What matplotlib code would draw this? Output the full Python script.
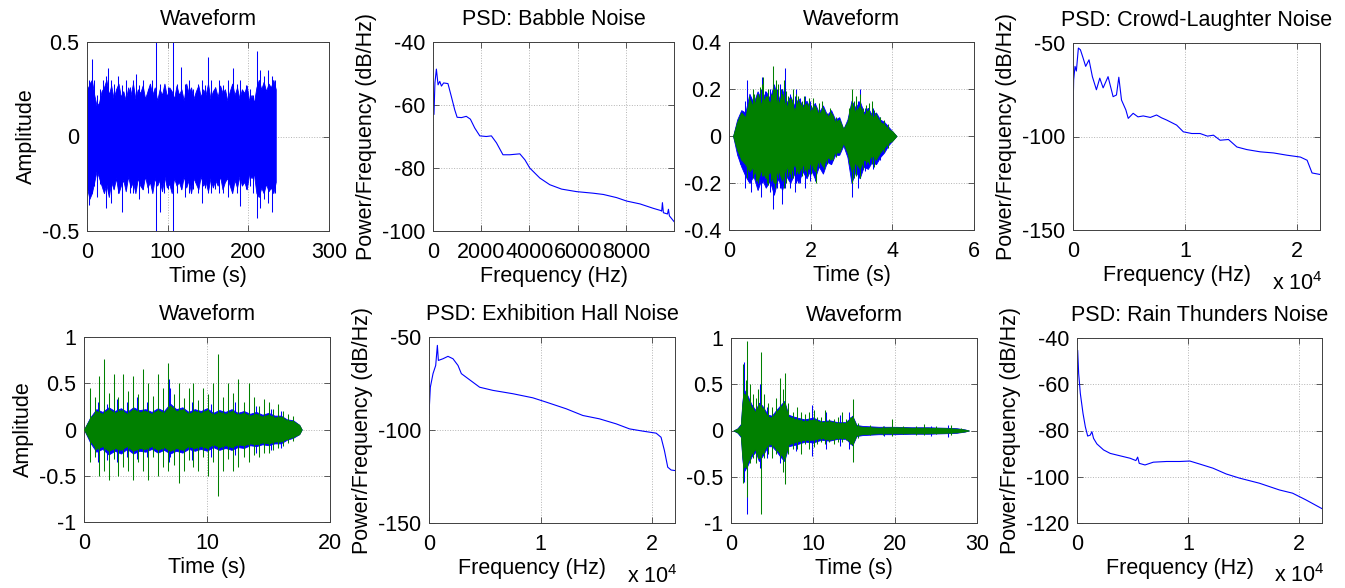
import matplotlib
matplotlib.use("Agg")
import matplotlib.pyplot as plt
from matplotlib.ticker import FuncFormatter

plt.rcParams['font.family'] = ['Liberation Sans', 'DejaVu Sans']
plt.rcParams['font.size'] = 15.5
plt.rcParams['axes.titlesize'] = 15.5
plt.rcParams['axes.unicode_minus'] = False
plt.rcParams['mathtext.fontset'] = 'custom'
plt.rcParams['mathtext.rm'] = 'Liberation Sans'

BLUE = '#0000ff'
GREEN = '#008000'

# --- Babble noise: waveform envelope (every 3 s) + peaks, PSD ---
bab_env_t = list(range(0, 235, 3))
bab_env_hi = [0.24, 0.28, 0.3, 0.22, 0.16, 0.18, 0.24, 0.26, 0.3, 0.22, 0.27, 0.2, 0.25, 0.28,
              0.21, 0.24, 0.19, 0.26, 0.22, 0.28, 0.2, 0.25, 0.23, 0.27, 0.2, 0.24, 0.28, 0.22,
              0.26, 0.19, 0.25, 0.22, 0.28, 0.21, 0.26, 0.24, 0.2, 0.27, 0.22, 0.25, 0.19,
              0.28, 0.23, 0.26, 0.2, 0.24, 0.27, 0.21, 0.25, 0.22, 0.28, 0.2, 0.24, 0.26, 0.21,
              0.27, 0.23, 0.25, 0.19, 0.24, 0.28, 0.22, 0.26, 0.2, 0.25, 0.23, 0.27, 0.19,
              0.22, 0.18, 0.26, 0.3, 0.25, 0.29, 0.24, 0.28, 0.26, 0.3, 0.25]
bab_env_lo = [-0.27, -0.33, -0.3, -0.24, -0.18, -0.22, -0.26, -0.3, -0.25, -0.32, -0.24,
              -0.28, -0.22, -0.3, -0.26, -0.23, -0.29, -0.21, -0.27, -0.24, -0.3, -0.22,
              -0.26, -0.28, -0.21, -0.27, -0.24, -0.3, -0.22, -0.26, -0.23, -0.29, -0.21,
              -0.27, -0.25, -0.3, -0.22, -0.26, -0.24, -0.28, -0.21, -0.27, -0.23, -0.3,
              -0.22, -0.25, -0.28, -0.21, -0.26, -0.24, -0.29, -0.22, -0.27, -0.23, -0.26,
              -0.21, -0.28, -0.24, -0.22, -0.26, -0.3, -0.23, -0.27, -0.21, -0.26, -0.24,
              -0.28, -0.2, -0.22, -0.2, -0.3, -0.32, -0.27, -0.3, -0.25, -0.29, -0.27, -0.3,
              -0.24]
bab_spk_t = [1, 3, 6, 9, 12, 16, 20, 23, 26, 30, 34, 38, 43, 48, 53, 57, 61, 65, 70, 76, 80,
             85, 91, 95, 100, 107, 112, 117, 122, 127, 132, 138, 142, 146, 150, 154, 159, 164,
             169, 175, 181, 186, 190, 197, 202, 206, 211, 215, 220, 224, 229, 233]
bab_spk_hi = [0.26, 0.3, 0.41, 0.3, 0.22, 0.25, 0.3, 0.32, 0.36, 0.3, 0.28, 0.32, 0.27, 0.3,
              0.26, 0.3, 0.33, 0.27, 0.3, 0.25, 0.3, 0.5, 0.28, 0.25, 0.26, 0.5, 0.28, 0.37,
              0.28, 0.3, 0.25, 0.28, 0.3, 0.27, 0.42, 0.3, 0.26, 0.3, 0.27, 0.3, 0.36, 0.28,
              0.3, 0.27, 0.25, 0.22, 0.45, 0.35, 0.32, 0.35, 0.32, 0.3]
bab_spk_lo = [-0.27, -0.36, -0.3, -0.26, -0.32, -0.25, -0.28, -0.38, -0.3, -0.35, -0.27, -0.3,
              -0.4, -0.28, -0.3, -0.3, -0.27, -0.33, -0.28, -0.3, -0.27, -0.5, -0.4, -0.3,
              -0.28, -0.5, -0.3, -0.28, -0.32, -0.3, -0.28, -0.3, -0.35, -0.27, -0.3, -0.3,
              -0.28, -0.3, -0.3, -0.32, -0.28, -0.3, -0.37, -0.28, -0.26, -0.3, -0.43, -0.38,
              -0.33, -0.35, -0.4, -0.3]
bab_f = [0, 40, 80, 140, 210, 280, 350, 440, 620, 760, 900, 1000, 1180, 1380, 1550, 1730,
         1940, 2210, 2420, 2630, 2900, 3180, 3600, 3810, 4010, 4430, 4840, 5330, 5950, 6640,
         7060, 7610, 8030, 8580, 9130, 9440, 9480, 9510, 9550, 9720, 9760, 9800, 9990]
bab_p = [-52, -63, -53, -48.6, -53.6, -52.5, -54, -53, -53.2, -57.3, -61.5, -63.9, -64, -63.6,
         -64.5, -67.3, -69.8, -70, -69.8, -72, -75.8, -75.8, -75.5, -77.4, -80, -83.2, -85.3,
         -86.7, -87.5, -88, -88.4, -89.4, -90.5, -91.4, -92.8, -93.5, -93.7, -91, -94.2,
         -94.6, -93.1, -95.2, -97]

# --- Crowd-laughter noise (envelope every 0.1 s) ---
crowd_env_t = [0.1, 0.2, 0.3, 0.4, 0.5, 0.6, 0.7, 0.8, 0.9, 1.0, 1.1, 1.2, 1.3, 1.4, 1.5, 1.6,
               1.7, 1.8, 1.9, 2.0, 2.1, 2.2, 2.3, 2.4, 2.5, 2.6, 2.7, 2.8, 2.9, 3.0, 3.1, 3.2,
               3.3, 3.4, 3.5, 3.6, 3.7, 3.8, 3.9, 4.0, 4.1]
crowd_g_hi = [0, 0.06, 0.1, 0.08, 0.16, 0.12, 0.18, 0.13, 0.17, 0.14, 0.2, 0.13, 0.18, 0.12,
              0.16, 0.11, 0.15, 0.12, 0.14, 0.1, 0.13, 0.09, 0.12, 0.08, 0.1, 0.06, 0.07, 0.03,
              0.06, 0.14, 0.1, 0.13, 0.09, 0.11, 0.08, 0.09, 0.06, 0.05, 0.03, 0.02, 0]
crowd_g_lo = [0, -0.06, -0.1, -0.12, -0.15, -0.13, -0.19, -0.14, -0.18, -0.15, -0.2, -0.14,
              -0.19, -0.13, -0.16, -0.12, -0.16, -0.12, -0.15, -0.11, -0.15, -0.1, -0.13,
              -0.09, -0.1, -0.07, -0.07, -0.03, -0.07, -0.15, -0.11, -0.14, -0.1, -0.11,
              -0.08, -0.1, -0.07, -0.05, -0.03, -0.02, 0]
crowd_b_hi = [0, 0.07, 0.11, 0.1, 0.18, 0.14, 0.19, 0.15, 0.19, 0.16, 0.22, 0.15, 0.2, 0.14,
              0.17, 0.13, 0.16, 0.13, 0.15, 0.11, 0.14, 0.1, 0.13, 0.09, 0.11, 0.07, 0.08,
              0.03, 0.07, 0.15, 0.12, 0.15, 0.1, 0.12, 0.09, 0.1, 0.07, 0.06, 0.04, 0.02, 0]
crowd_b_lo = [0, -0.08, -0.13, -0.17, -0.2, -0.17, -0.23, -0.18, -0.22, -0.19, -0.25, -0.18,
              -0.23, -0.17, -0.2, -0.16, -0.2, -0.15, -0.18, -0.14, -0.18, -0.13, -0.16,
              -0.11, -0.12, -0.08, -0.08, -0.04, -0.09, -0.2, -0.15, -0.18, -0.13, -0.14,
              -0.11, -0.12, -0.09, -0.07, -0.04, -0.02, 0]
crowd_bspk_t = [0.27, 0.4, 0.45, 0.55, 0.68, 0.78, 0.82, 0.88, 1.0, 1.08, 1.18, 1.25, 1.31,
                1.37, 1.49, 1.61, 1.65, 1.74, 1.87, 1.98, 2.1, 2.3, 2.5, 2.67, 3.0, 3.16, 3.2,
                3.33, 3.53, 3.7]
crowd_bspk_hi = [0.08, 0.15, 0.24, 0.16, 0.18, 0.2, 0.25, 0.19, 0.2, 0.22, 0.2, 0.22, 0.2,
                 0.29, 0.18, 0.17, 0.2, 0.16, 0.17, 0.15, 0.14, 0.12, 0.1, 0.07, 0.16, 0.15,
                 0.2, 0.12, 0.12, 0.08]
crowd_bspk_lo = [-0.12, -0.22, -0.15, -0.24, -0.2, -0.26, -0.2, -0.2, -0.24, -0.31, -0.22,
                 -0.22, -0.29, -0.22, -0.22, -0.24, -0.2, -0.2, -0.22, -0.19, -0.19, -0.14,
                 -0.12, -0.08, -0.26, -0.22, -0.18, -0.15, -0.14, -0.1]
crowd_gspk_t = [0.3, 0.43, 0.5, 0.54, 0.58, 0.62, 0.66, 0.72, 0.76, 0.8, 0.84, 0.92, 0.96,
                1.02, 1.08, 1.12, 1.16, 1.2, 1.28, 1.34, 1.4, 1.45, 1.53, 1.57, 1.65, 1.7,
                1.78, 1.83, 1.9, 1.95, 2.02, 2.06, 2.14, 2.2, 2.27, 2.33, 2.39, 2.47, 2.55,
                2.62, 2.95, 3.0, 3.05, 3.1, 3.2, 3.27, 3.35, 3.42, 3.49, 3.55, 3.6, 3.7, 3.8,
                3.9]
crowd_gspk_hi = [0.1, 0.12, 0.17, 0.14, 0.2, 0.18, 0.16, 0.15, 0.21, 0.22, 0.25, 0.17, 0.2,
                 0.18, 0.3, 0.2, 0.24, 0.22, 0.2, 0.24, 0.19, 0.17, 0.16, 0.2, 0.18, 0.17,
                 0.15, 0.17, 0.13, 0.16, 0.13, 0.16, 0.12, 0.14, 0.15, 0.11, 0.1, 0.12, 0.09,
                 0.08, 0.12, 0.2, 0.15, 0.17, 0.18, 0.12, 0.13, 0.14, 0.15, 0.11, 0.1, 0.08,
                 0.07, 0.05]
crowd_gspk_lo = [-0.1, -0.18, -0.15, -0.14, -0.18, -0.16, -0.19, -0.2, -0.15, -0.17, -0.17,
                 -0.2, -0.21, -0.19, -0.17, -0.22, -0.2, -0.18, -0.16, -0.22, -0.2, -0.17,
                 -0.18, -0.18, -0.16, -0.15, -0.17, -0.15, -0.17, -0.14, -0.16, -0.14, -0.2,
                 -0.13, -0.12, -0.14, -0.12, -0.1, -0.1, -0.09, -0.12, -0.2, -0.18, -0.17,
                 -0.18, -0.14, -0.12, -0.12, -0.12, -0.13, -0.1, -0.07, -0.07, -0.05]
crowd_f = [0, 60, 180, 300, 480, 660, 900, 1130, 1430, 1730, 2090, 2390, 2690, 3130, 3580,
           3880, 4090, 4330, 4720, 4930, 5370, 5800, 6270, 6900, 7460, 7900, 8360, 9250, 9850,
           10600, 11340, 12000, 12540, 13130, 13880, 14630, 15520, 16720, 17910, 19100,
           20300, 20900, 21340, 22050]
crowd_p = [-87.6, -69.7, -62.5, -65, -52.7, -53.6, -58, -62.5, -59, -68, -75, -68.8, -74, -68,
           -78.7, -77.8, -68.3, -80.5, -85.8, -90.3, -87.6, -89.5, -89, -89.8, -88.5, -90,
           -91.2, -93.9, -97.5, -98.4, -98.4, -99.8, -99.3, -102, -101.6, -105.6, -107,
           -108.2, -108.8, -110, -111, -112.7, -119.5, -120.3]

# --- Exhibition hall noise (envelope every 0.5 s) ---
exh_env_t = [0, 0.5, 1, 1.5, 2, 2.5, 3, 3.5, 4, 4.5, 5, 5.5, 6, 6.5, 7, 7.5, 8, 8.5, 9, 9.5,
             10, 10.5, 11, 11.5, 12, 12.5, 13, 13.5, 14, 14.5, 15, 15.5, 16, 16.5, 17, 17.5,
             17.7]
exh_g_hi = [0, 0.12, 0.2, 0.17, 0.22, 0.18, 0.21, 0.17, 0.22, 0.19, 0.2, 0.17, 0.21, 0.18,
            0.26, 0.2, 0.22, 0.17, 0.2, 0.18, 0.21, 0.16, 0.19, 0.17, 0.2, 0.16, 0.18, 0.15,
            0.17, 0.14, 0.16, 0.13, 0.14, 0.1, 0.09, 0.05, 0]
exh_g_lo = [0, -0.12, -0.21, -0.18, -0.23, -0.2, -0.22, -0.18, -0.23, -0.2, -0.21, -0.18,
            -0.22, -0.19, -0.23, -0.2, -0.22, -0.18, -0.2, -0.18, -0.2, -0.16, -0.19, -0.17,
            -0.19, -0.16, -0.17, -0.15, -0.16, -0.14, -0.15, -0.13, -0.13, -0.1, -0.08,
            -0.05, 0]
exh_b_hi = [0, 0.13, 0.22, 0.19, 0.24, 0.2, 0.23, 0.19, 0.24, 0.21, 0.22, 0.19, 0.23, 0.2,
            0.28, 0.22, 0.24, 0.19, 0.22, 0.2, 0.23, 0.18, 0.21, 0.19, 0.22, 0.18, 0.2, 0.17,
            0.19, 0.16, 0.18, 0.15, 0.15, 0.11, 0.1, 0.05, 0]
exh_b_lo = [0, -0.14, -0.24, -0.21, -0.27, -0.23, -0.26, -0.21, -0.26, -0.23, -0.24, -0.21,
            -0.25, -0.22, -0.26, -0.23, -0.25, -0.21, -0.23, -0.21, -0.23, -0.19, -0.22,
            -0.2, -0.22, -0.19, -0.2, -0.17, -0.18, -0.16, -0.17, -0.15, -0.15, -0.11,
            -0.09, -0.05, 0]
exh_bspk_t = [1.1, 1.9, 2.7, 3.5, 4.3, 5.1, 6.9, 7.0, 8.8, 10.3, 12.3, 14.0, 15.2, 16.0]
exh_bspk_hi = [0.3, 0.28, 0.33, 0.3, 0.35, 0.3, 0.55, 0.45, 0.3, 0.28, 0.3, 0.25, 0.22, 0.2]
exh_bspk_lo = [-0.35, -0.33, -0.35, -0.3, -0.32, -0.3, -0.35, -0.3, -0.33, -0.3, -0.28,
               -0.25, -0.22, -0.2]
exh_spk_t = [0.5, 0.9, 1.25, 1.6, 2.0, 2.4, 2.8, 3.2, 3.6, 4.0, 4.4, 4.8, 5.2, 5.6, 6.0, 6.4,
             6.85, 7.3, 7.7, 8.1, 8.5, 8.9, 9.3, 9.7, 10.1, 10.5, 10.9, 11.3, 11.7, 12.1,
             12.5, 13.0, 13.4, 13.8, 14.2, 14.6, 15.0, 15.4, 15.8, 16.2, 16.6, 17.0]
exh_spk_hi = [0.45, 0.35, 0.58, 0.76, 0.4, 0.6, 0.35, 0.6, 0.42, 0.58, 0.38, 0.65, 0.5, 0.36,
              0.6, 0.45, 0.72, 0.38, 0.5, 0.34, 0.45, 0.5, 0.32, 0.45, 0.38, 0.5, 0.82, 0.35,
              0.5, 0.4, 0.55, 0.3, 0.5, 0.35, 0.25, 0.33, 0.3, 0.22, 0.28, 0.2, 0.17, 0.15]
exh_spk_lo = [-0.35, -0.3, -0.5, -0.45, -0.55, -0.32, -0.5, -0.4, -0.45, -0.55, -0.35, -0.45,
              -0.55, -0.3, -0.5, -0.4, -0.45, -0.38, -0.58, -0.45, -0.33, -0.4, -0.45, -0.3,
              -0.5, -0.35, -0.72, -0.45, -0.32, -0.45, -0.4, -0.3, -0.35, -0.28, -0.3, -0.25,
              -0.25, -0.22, -0.2, -0.18, -0.15, -0.12]
exh_f = [0, 120, 360, 600, 750, 840, 1250, 1700, 2150, 2600, 2900, 3640, 4540, 5730, 7520,
         9310, 10500, 12300, 13790, 15280, 16780, 17970, 19160, 20360, 20800, 21100, 21400,
         21700, 22050]
exh_p = [-91.3, -77, -69.7, -65.3, -54.5, -62.6, -61.7, -60.4, -61.7, -65.3, -69.7, -73, -77,
         -78.7, -80.5, -82.7, -85, -88.6, -92.2, -94, -96.7, -99.4, -100.6, -101.7, -103.9,
         -111, -120, -121.5, -121.8]

# --- Rain thunders noise ---
rain_env_t = [0.3, 0.8, 1.2, 1.4, 1.6, 2.0, 2.5, 3.0, 3.4, 3.8, 4.5, 5.0, 5.5, 6.0, 6.5, 7.0,
              8.0, 9.0, 10.0, 11.0, 12.0, 13.0, 14.0, 14.8, 15.3, 16.0, 18.0, 20.0, 22.0,
              24.0, 26.0, 27.5, 28.5, 29.0]
rain_g_hi = [0, 0.02, 0.06, 0.3, 0.4, 0.35, 0.25, 0.2, 0.28, 0.25, 0.15, 0.14, 0.2, 0.25, 0.3,
             0.15, 0.12, 0.1, 0.12, 0.09, 0.1, 0.08, 0.08, 0.15, 0.05, 0.04, 0.03, 0.035,
             0.03, 0.03, 0.025, 0.02, 0.01, 0]
rain_g_lo = [0, -0.02, -0.06, -0.3, -0.4, -0.35, -0.25, -0.2, -0.3, -0.25, -0.15, -0.15, -0.2,
             -0.25, -0.3, -0.15, -0.12, -0.1, -0.1, -0.08, -0.1, -0.08, -0.08, -0.15, -0.05,
             -0.04, -0.03, -0.03, -0.03, -0.03, -0.025, -0.02, -0.01, 0]
rain_b_hi = [0, 0.025, 0.07, 0.33, 0.44, 0.38, 0.28, 0.22, 0.3, 0.27, 0.17, 0.16, 0.22, 0.27,
             0.32, 0.17, 0.14, 0.12, 0.14, 0.1, 0.11, 0.09, 0.09, 0.16, 0.06, 0.05, 0.04,
             0.04, 0.035, 0.035, 0.03, 0.025, 0.012, 0]
rain_b_lo = [0, -0.025, -0.07, -0.33, -0.44, -0.38, -0.28, -0.23, -0.33, -0.28, -0.17, -0.17,
             -0.22, -0.28, -0.33, -0.17, -0.15, -0.12, -0.13, -0.1, -0.11, -0.09, -0.09,
             -0.16, -0.06, -0.05, -0.04, -0.04, -0.035, -0.035, -0.03, -0.025, -0.012, 0]
rain_gspk_t = [1.5, 1.8, 1.95, 2.3, 2.7, 3.0, 3.3, 3.6, 4.0, 4.5, 5.0, 5.5, 6.0, 6.3, 6.6, 7.0,
               7.5, 8.0, 8.5, 9.0, 9.5, 10.1, 10.5, 11.0, 11.5, 12.0, 12.5, 13.0, 13.5, 14.0,
               14.5, 14.9, 15.5, 17.0, 18.5, 19.6, 21.0, 22.5, 23.5, 25.0, 26.8, 28.0]
rain_gspk_hi = [0.72, 0.55, 0.97, 0.5, 0.4, 0.35, 0.45, 0.85, 0.4, 0.3, 0.25, 0.35, 0.57, 0.45,
                0.62, 0.3, 0.2, 0.25, 0.2, 0.18, 0.2, 0.22, 0.15, 0.15, 0.22, 0.12, 0.12,
                0.15, 0.2, 0.12, 0.15, 0.34, 0.08, 0.06, 0.05, 0.12, 0.05, 0.05, 0.07, 0.05,
                0.06, 0.03]
rain_gspk_lo = [-0.57, -0.4, -0.72, -0.35, -0.3, -0.35, -0.3, -0.9, -0.3, -0.25, -0.3, -0.25,
                -0.3, -0.45, -0.58, -0.25, -0.2, -0.2, -0.25, -0.15, -0.2, -0.18, -0.15,
                -0.12, -0.15, -0.12, -0.15, -0.12, -0.12, -0.1, -0.15, -0.34, -0.08, -0.05,
                -0.05, -0.06, -0.04, -0.05, -0.05, -0.04, -0.05, -0.02]
rain_bspk_t = [1.55, 1.95, 3.55, 4.4, 6.0, 7.9, 9.9, 11.6, 13.3, 14.4, 18.7, 24.4, 26.5]
rain_bspk_hi = [0.74, 0.6, 0.5, 0.25, 0.4, 0.15, 0.28, 0.2, 0.17, 0.2, 0.05, 0.05, 0.06]
rain_bspk_lo = [-0.56, -0.9, -0.4, -0.3, -0.35, -0.22, -0.28, -0.2, -0.17, -0.2, -0.06, -0.06,
                -0.07]
rain_f = [0, 60, 150, 300, 540, 750, 960, 1190, 1340, 1490, 1790, 2390, 2990, 3580, 4180,
          4780, 5300, 5460, 5600, 6120, 6870, 8060, 9250, 10150, 11040, 12240, 13430, 14630,
          16420, 18210, 19400, 20600, 22050]
rain_p = [-51, -45.3, -55.4, -64, -72.6, -78.4, -82.4, -82, -80.5, -83.4, -85.8, -88.4, -89.9,
          -90.6, -91.3, -92, -93, -91.5, -94.2, -94.9, -93.7, -93.4, -93.4, -93.2, -94.5,
          -96.3, -98.8, -100.6, -102.8, -105.7, -107.1, -110, -113.8]

W, H = 1345, 588
fig = plt.figure(figsize=(13.45, 5.88), dpi=100)


def make_ax(l, t, r, b):
    return fig.add_axes([l / W, (H - b) / H, (r - l) / W, (b - t) / H])


def style(ax, xlim, xticks, ylim, yticks, title, xlabel, ylabel, sci=False):
    ax.set_xlim(xlim)
    ax.set_ylim(ylim)
    ax.set_xticks(xticks)
    ax.set_yticks(yticks)
    if sci:
        ax.xaxis.set_major_formatter(FuncFormatter(lambda v, p: '%g' % (v / 1e4)))
    else:
        ax.xaxis.set_major_formatter(FuncFormatter(lambda v, p: '%g' % v))
    ax.yaxis.set_major_formatter(FuncFormatter(lambda v, p: '%g' % v))
    ax.set_axisbelow(True)
    ax.grid(True, ls=':', color='#b4b4b4', lw=0.7)
    ax.tick_params(direction='in', top=True, right=True, length=4, width=0.6,
                   color='#404040')
    ax.tick_params(axis='x', pad=8)
    ax.tick_params(axis='y', pad=5.5)
    for s in ax.spines.values():
        s.set_color('#404040')
        s.set_linewidth(0.7)
    ax.set_title(title, pad=12)
    if sci:
        ax.set_xlabel(xlabel, labelpad=2, x=0.42)
        ax.text(0.805, -0.32, r'x 10$^{\mathregular{4}}$', transform=ax.transAxes,
                ha='left', va='baseline')
    else:
        ax.set_xlabel(xlabel, labelpad=2)
    if ylabel:
        ax.set_ylabel(ylabel, labelpad=3.5)


def waveform(ax, env_t, hi, lo, spk_t, spk_hi, spk_lo, color, z):
    ax.fill_between(env_t, lo, hi, color=color, lw=0.6, zorder=z)
    ax.vlines(spk_t, spk_lo, spk_hi, color=color, lw=0.75, zorder=z + 0.1)


# top row
ax1 = make_ax(87, 42, 329, 231)
waveform(ax1, bab_env_t, bab_env_hi, bab_env_lo, bab_spk_t, bab_spk_hi, bab_spk_lo, BLUE, 2)
style(ax1, (0, 300), [0, 100, 200, 300], (-0.5, 0.5), [-0.5, 0, 0.5],
      'Waveform', 'Time (s)', 'Amplitude')

ax2 = make_ax(433, 42, 674, 231)
ax2.plot(bab_f, bab_p, color=BLUE, lw=0.8)
style(ax2, (0, 9990), [0, 2000, 4000, 6000, 8000], (-100, -40), [-100, -80, -60, -40],
      'PSD: Babble Noise', 'Frequency (Hz)', 'Power/Frequency (dB/Hz)')

ax3 = make_ax(729, 42, 974, 230)
waveform(ax3, crowd_env_t, crowd_b_hi, crowd_b_lo, crowd_bspk_t, crowd_bspk_hi,
         crowd_bspk_lo, BLUE, 2)
waveform(ax3, crowd_env_t, crowd_g_hi, crowd_g_lo, crowd_gspk_t, crowd_gspk_hi,
         crowd_gspk_lo, GREEN, 3)
style(ax3, (0, 6), [0, 2, 4, 6], (-0.4, 0.4), [-0.4, -0.2, 0, 0.2, 0.4],
      'Waveform', 'Time (s)', None)

ax4 = make_ax(1073, 43, 1320, 230)
ax4.plot(crowd_f, crowd_p, color=BLUE, lw=0.8)
style(ax4, (0, 22050), [0, 10000, 20000], (-150, -50), [-150, -100, -50],
      'PSD: Crowd-Laughter Noise', 'Frequency (Hz)', 'Power/Frequency (dB/Hz)', sci=True)

# bottom row
ax5 = make_ax(84, 337, 330, 522)
waveform(ax5, exh_env_t, exh_b_hi, exh_b_lo, exh_bspk_t, exh_bspk_hi, exh_bspk_lo, BLUE, 2)
waveform(ax5, exh_env_t, exh_g_hi, exh_g_lo, exh_spk_t, exh_spk_hi, exh_spk_lo, GREEN, 3)
style(ax5, (0, 20), [0, 10, 20], (-1, 1), [-1, -0.5, 0, 0.5, 1],
      'Waveform', 'Time (s)', 'Amplitude')

ax6 = make_ax(429, 337, 675, 523)
ax6.plot(exh_f, exh_p, color=BLUE, lw=0.8)
style(ax6, (0, 22050), [0, 10000, 20000], (-150, -50), [-150, -100, -50],
      'PSD: Exhibition Hall Noise', 'Frequency (Hz)', 'Power/Frequency (dB/Hz)', sci=True)

ax7 = make_ax(731, 338, 977, 523)
waveform(ax7, rain_env_t, rain_b_hi, rain_b_lo, rain_bspk_t, rain_bspk_hi, rain_bspk_lo,
         BLUE, 2)
waveform(ax7, rain_env_t, rain_g_hi, rain_g_lo, rain_gspk_t, rain_gspk_hi, rain_gspk_lo,
         GREEN, 3)
style(ax7, (0, 30), [0, 10, 20, 30], (-1, 1), [-1, -0.5, 0, 0.5, 1],
      'Waveform', 'Time (s)', None)

ax8 = make_ax(1077, 338, 1322, 523)
ax8.plot(rain_f, rain_p, color=BLUE, lw=0.8)
style(ax8, (0, 22050), [0, 10000, 20000], (-120, -40), [-120, -100, -80, -60, -40],
      'PSD: Rain Thunders Noise', 'Frequency (Hz)', 'Power/Frequency (dB/Hz)', sci=True)

plt.savefig("out.png", dpi=100)
